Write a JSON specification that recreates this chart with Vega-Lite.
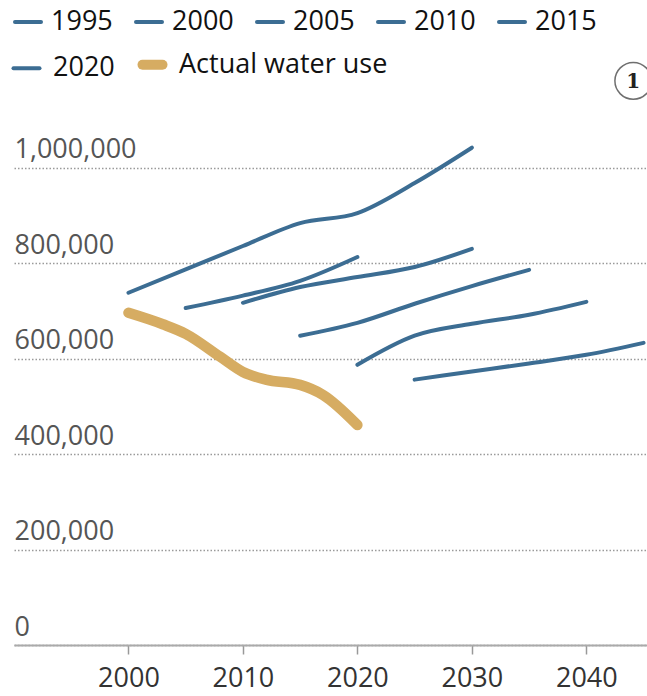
{
  "$schema": "https://vega.github.io/schema/vega-lite/v6.json",
  "width": 633,
  "height": 525,
  "autosize": {"type": "none"},
  "padding": {"left": 14, "top": 120, "right": 0, "bottom": 51},
  "background": "white",
  "config": {
    "font": "Open Sans",
    "view": {"stroke": null},
    "legend": {
      "title": null,
      "orient": "none",
      "direction": "horizontal",
      "padding": 0,
      "symbolType": "stroke",
      "symbolSize": 676,
      "symbolStrokeWidth": 4,
      "labelFont": "Open Sans",
      "labelFontSize": 27,
      "labelColor": "#111111",
      "labelOffset": 8,
      "labelLimit": 0,
      "columnPadding": 15
    }
  },
  "datasets": {
    "earlier": [
      {"series": "1995", "year": 2000, "value": 738000},
      {"series": "1995", "year": 2005, "value": 787000},
      {"series": "1995", "year": 2010, "value": 836000},
      {"series": "1995", "year": 2015, "value": 884000},
      {"series": "1995", "year": 2020, "value": 905000},
      {"series": "1995", "year": 2025, "value": 968000},
      {"series": "1995", "year": 2030, "value": 1042000},
      {"series": "2000", "year": 2005, "value": 706000},
      {"series": "2000", "year": 2010, "value": 732000},
      {"series": "2000", "year": 2015, "value": 763000},
      {"series": "2000", "year": 2020, "value": 813000},
      {"series": "2005", "year": 2010, "value": 717000},
      {"series": "2005", "year": 2015, "value": 750000},
      {"series": "2005", "year": 2020, "value": 771000},
      {"series": "2005", "year": 2025, "value": 792000},
      {"series": "2005", "year": 2030, "value": 830000},
      {"series": "2010", "year": 2015, "value": 648000},
      {"series": "2010", "year": 2020, "value": 675000},
      {"series": "2010", "year": 2025, "value": 715000},
      {"series": "2010", "year": 2030, "value": 752000},
      {"series": "2010", "year": 2035, "value": 786000},
      {"series": "2015", "year": 2020, "value": 587000},
      {"series": "2015", "year": 2025, "value": 648000},
      {"series": "2015", "year": 2030, "value": 673000},
      {"series": "2015", "year": 2035, "value": 692000},
      {"series": "2015", "year": 2040, "value": 719000}
    ],
    "latest": [
      {"series": "2020", "year": 2025, "value": 556000},
      {"series": "2020", "year": 2030, "value": 573000},
      {"series": "2020", "year": 2035, "value": 590000},
      {"series": "2020", "year": 2040, "value": 608000},
      {"series": "2020", "year": 2045, "value": 633000}
    ],
    "actual": [
      {"series": "Actual water use", "year": 2000, "value": 696000},
      {"series": "Actual water use", "year": 2003, "value": 672000},
      {"series": "Actual water use", "year": 2005, "value": 652000},
      {"series": "Actual water use", "year": 2008, "value": 604000},
      {"series": "Actual water use", "year": 2010, "value": 572000},
      {"series": "Actual water use", "year": 2012, "value": 556000},
      {"series": "Actual water use", "year": 2015, "value": 545000},
      {"series": "Actual water use", "year": 2017, "value": 524000},
      {"series": "Actual water use", "year": 2020, "value": 461000}
    ],
    "marker": [
      {"year": 2044.1, "value": 1182000, "note": "1"}
    ]
  },
  "encoding": {
    "x": {
      "field": "year",
      "type": "quantitative",
      "scale": {"domain": [1990, 2045.3], "nice": false, "zero": false},
      "axis": {
        "title": null,
        "values": [2000, 2010, 2020, 2030, 2040],
        "format": "d",
        "grid": false,
        "domain": true,
        "domainColor": "#aaaaaa",
        "domainWidth": 2,
        "ticks": true,
        "tickColor": "#999999",
        "tickSize": 9,
        "tickWidth": 1.5,
        "labelFont": "Open Sans",
        "labelFontSize": 27,
        "labelColor": "#333333",
        "labelPadding": 11,
        "labelFlush": false,
        "labelOverlap": false
      }
    },
    "y": {
      "field": "value",
      "type": "quantitative",
      "scale": {"domain": [0, 1100000], "nice": false},
      "axis": {
        "title": null,
        "values": [0, 200000, 400000, 600000, 800000, 1000000],
        "format": ",d",
        "domain": false,
        "ticks": false,
        "tickSize": 0,
        "grid": true,
        "gridColor": "#9a9a9a",
        "gridDash": [1.5, 2],
        "gridWidth": 1.5,
        "labelAlign": "left",
        "labelBaseline": "alphabetic",
        "labelPadding": 0,
        "labelOffset": -10,
        "labelFont": "Open Sans",
        "labelFontSize": 27,
        "labelColor": "#555555",
        "labelOverlap": false
      }
    }
  },
  "layer": [
    {
      "data": {"name": "earlier"},
      "mark": {"type": "line", "interpolate": "monotone", "strokeCap": "round", "strokeJoin": "round", "strokeWidth": 4},
      "encoding": {
        "color": {
          "field": "series",
          "type": "nominal",
          "scale": {
            "domain": ["1995", "2000", "2005", "2010", "2015"],
            "range": ["#3c6d93", "#3c6d93", "#3c6d93", "#3c6d93", "#3c6d93"]
          },
          "legend": {
            "legendX": -1,
            "legendY": -113,
            "encode": {"symbols": {"update": {"strokeCap": {"value": "round"}}}}
          }
        }
      }
    },
    {
      "layer": [
        {
          "data": {"name": "latest"},
          "mark": {"type": "line", "interpolate": "monotone", "strokeCap": "round", "strokeJoin": "round", "strokeWidth": 4}
        },
        {
          "data": {"name": "actual"},
          "mark": {"type": "line", "interpolate": "monotone", "strokeCap": "round", "strokeJoin": "round", "strokeWidth": 10.5}
        }
      ],
      "encoding": {
        "color": {
          "field": "series",
          "type": "nominal",
          "scale": {
            "domain": ["2020", "Actual water use"],
            "range": ["#3c6d93", "#d6ac62"]
          },
          "legend": {
            "legendX": -1,
            "legendY": -69,
            "labelOffset": 13,
            "columnPadding": 7,
            "encode": {
              "symbols": {
                "update": {
                  "strokeCap": {"value": "round"},
                  "strokeWidth": {"signal": "datum.value === 'Actual water use' ? 10 : 4"},
                  "size": {"signal": "datum.value === 'Actual water use' ? 400 : 676"}
                }
              }
            }
          }
        }
      }
    },
    {
      "data": {"name": "marker"},
      "mark": {"type": "point", "shape": "circle", "filled": false, "stroke": "#333333", "strokeWidth": 1.5, "size": 1350}
    },
    {
      "data": {"name": "marker"},
      "mark": {"type": "text", "font": "DejaVu Serif", "fontWeight": "bold", "fontSize": 20, "color": "#222222", "baseline": "middle", "align": "center", "dy": 1},
      "encoding": {
        "text": {"field": "note", "type": "nominal"}
      }
    }
  ],
  "resolve": {
    "scale": {"color": "independent"},
    "legend": {"color": "independent"}
  }
}
